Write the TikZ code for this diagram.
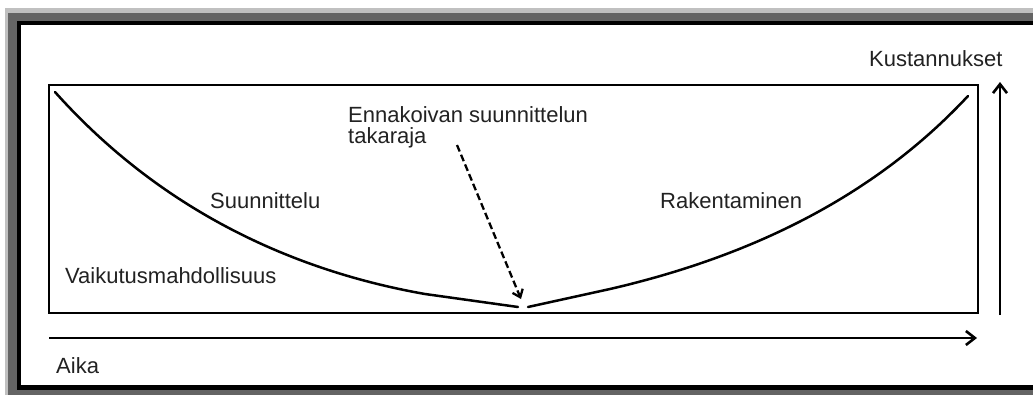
\documentclass[tikz,border=0pt]{standalone}
\usepackage{fontspec}
\setmainfont{Liberation Sans}
\usetikzlibrary{arrows.meta}
\definecolor{framelight}{HTML}{C0C0C0}
\definecolor{framedark}{HTML}{646464}
\definecolor{txt}{HTML}{222222}
\begin{document}
\begin{tikzpicture}[x=1pt,y=-1pt,
  lbl/.style={anchor=base west,inner sep=0pt,font=\fontsize{22}{26}\selectfont,text=txt},
  curve/.style={line width=2.5pt,black,line cap=round},
  axis/.style={line width=2.6pt,black,-{Straight Barb[length=9pt,width=14pt,line width=2.6pt]}},
  dasharrow/.style={line width=2.3pt,black,dash pattern=on 7pt off 3.5pt,-{Straight Barb[length=7pt,width=11pt,line width=2.3pt]}}]
\useasboundingbox (0,0) rectangle (1033,394);
\fill[white] (0,0) rectangle (1033,394);
\fill[framelight] (5,8) rectangle (1040,400);
\fill[framedark] (8,13) rectangle (1040,400);
\fill[black] (17,21) rectangle (1040,390);
\fill[white] (21,25) rectangle (1040,385);
% inner box
\node[draw=black,line width=2.8pt,minimum width=929pt,minimum height=228pt,anchor=north west,inner sep=0pt] (box) at (47.5,83.5) {};
% curves
\coordinate (ls) at (55,92);
\coordinate (lb) at (518,307);
\coordinate (rb) at (528,307);
\coordinate (re) at (968,96);
\draw[curve] (ls) .. controls (165,215) and (300,272) .. (425,294) -- (lb);
\draw[curve] (rb) -- (610,289) .. controls (770,252) and (885,185) .. (re);
% dashed arrow
\coordinate (ds) at (457,145);
\coordinate (de) at (521,299);
\draw[dasharrow] (ds) -- (de);
% axes
\coordinate (xa) at (49,338);
\coordinate (xb) at (977,338);
\draw[axis] (xa) -- (xb);
\coordinate (ya) at (1000,315);
\coordinate (yb) at (1000,82);
\draw[axis] (ya) -- (yb);
% labels
\node[lbl] (kust) at (869,66) {Kustannukset};
\node[lbl] (enn) at (348,122) {Ennakoivan suunnittelun};
\node[lbl] (tak) at (348,143) {takaraja};
\node[lbl] (suun) at (210,208) {Suunnittelu};
\node[lbl] (rak) at (660,208) {Rakentaminen};
\node[lbl] (vaik) at (65,283) {Vaikutusmahdollisuus};
\node[lbl] (aika) at (56,373) {Aika};
\end{tikzpicture}
\end{document}
